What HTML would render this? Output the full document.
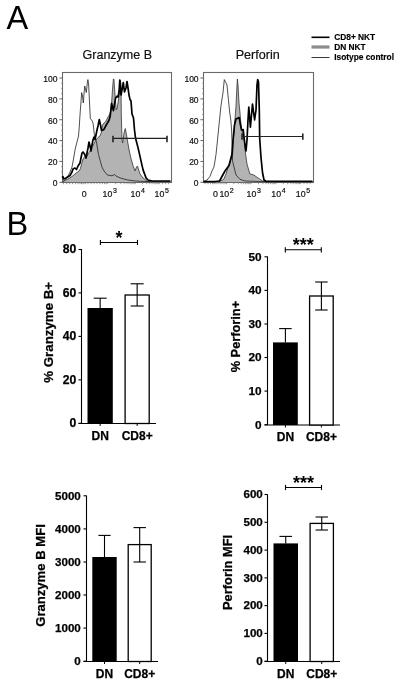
<!DOCTYPE html>
<html><head><meta charset="utf-8"><style>
html,body{margin:0;padding:0;background:#fff;}
svg{display:block;filter:grayscale(1);}
text{font-family:"Liberation Sans", sans-serif;}
</style></head><body>
<svg width="400" height="685" viewBox="0 0 400 685">
<rect x="0" y="0" width="400" height="685" fill="#fff"/>

<text x="6.5" y="29" font-size="32.5" fill="#000">A</text>
<text x="6.5" y="235" font-size="32.5" fill="#000">B</text>
<text x="117.3" y="59.3" font-size="12.5" text-anchor="middle" fill="#111" stroke="#111" stroke-width="0.2">Granzyme B</text>
<text x="257.7" y="59.3" font-size="12.6" text-anchor="middle" fill="#111" stroke="#111" stroke-width="0.2">Perforin</text>
<line x1="311.5" y1="37.3" x2="329.5" y2="37.3" stroke="#000" stroke-width="1.6"/>
<line x1="311.5" y1="47" x2="329.5" y2="47" stroke="#8c8c8c" stroke-width="3.2"/>
<line x1="311.5" y1="57.5" x2="329.5" y2="57.5" stroke="#222" stroke-width="0.9"/>
<text x="334.2" y="39.6" font-size="8.35" font-weight="bold" fill="#000" stroke="#000" stroke-width="0.15">CD8+ NKT</text>
<text x="334.2" y="49.7" font-size="8.35" font-weight="bold" fill="#000" stroke="#000" stroke-width="0.15">DN NKT</text>
<text x="334.2" y="60.1" font-size="8.35" font-weight="bold" fill="#000" stroke="#000" stroke-width="0.15">Isotype control</text>
<rect x="62.5" y="72.5" width="109" height="110" fill="none" stroke="#6a6a6a" stroke-width="1.1"/>
<line x1="59.4" y1="182.30" x2="62.5" y2="182.30" stroke="#555" stroke-width="0.9"/>
<text x="57.4" y="186.10" font-size="8.5" text-anchor="end" fill="#111" stroke="#111" stroke-width="0.2">0</text>
<line x1="61.0" y1="177.09" x2="62.5" y2="177.09" stroke="#888" stroke-width="0.7"/>
<line x1="61.0" y1="171.87" x2="62.5" y2="171.87" stroke="#888" stroke-width="0.7"/>
<line x1="61.0" y1="166.66" x2="62.5" y2="166.66" stroke="#888" stroke-width="0.7"/>
<line x1="59.4" y1="161.44" x2="62.5" y2="161.44" stroke="#555" stroke-width="0.9"/>
<text x="57.4" y="165.24" font-size="8.5" text-anchor="end" fill="#111" stroke="#111" stroke-width="0.2">20</text>
<line x1="61.0" y1="156.22" x2="62.5" y2="156.22" stroke="#888" stroke-width="0.7"/>
<line x1="61.0" y1="151.01" x2="62.5" y2="151.01" stroke="#888" stroke-width="0.7"/>
<line x1="61.0" y1="145.79" x2="62.5" y2="145.79" stroke="#888" stroke-width="0.7"/>
<line x1="59.4" y1="140.58" x2="62.5" y2="140.58" stroke="#555" stroke-width="0.9"/>
<text x="57.4" y="144.38" font-size="8.5" text-anchor="end" fill="#111" stroke="#111" stroke-width="0.2">40</text>
<line x1="61.0" y1="135.37" x2="62.5" y2="135.37" stroke="#888" stroke-width="0.7"/>
<line x1="61.0" y1="130.15" x2="62.5" y2="130.15" stroke="#888" stroke-width="0.7"/>
<line x1="61.0" y1="124.94" x2="62.5" y2="124.94" stroke="#888" stroke-width="0.7"/>
<line x1="59.4" y1="119.72" x2="62.5" y2="119.72" stroke="#555" stroke-width="0.9"/>
<text x="57.4" y="123.52" font-size="8.5" text-anchor="end" fill="#111" stroke="#111" stroke-width="0.2">60</text>
<line x1="61.0" y1="114.51" x2="62.5" y2="114.51" stroke="#888" stroke-width="0.7"/>
<line x1="61.0" y1="109.29" x2="62.5" y2="109.29" stroke="#888" stroke-width="0.7"/>
<line x1="61.0" y1="104.08" x2="62.5" y2="104.08" stroke="#888" stroke-width="0.7"/>
<line x1="59.4" y1="98.86" x2="62.5" y2="98.86" stroke="#555" stroke-width="0.9"/>
<text x="57.4" y="102.66" font-size="8.5" text-anchor="end" fill="#111" stroke="#111" stroke-width="0.2">80</text>
<line x1="61.0" y1="93.65" x2="62.5" y2="93.65" stroke="#888" stroke-width="0.7"/>
<line x1="61.0" y1="88.43" x2="62.5" y2="88.43" stroke="#888" stroke-width="0.7"/>
<line x1="61.0" y1="83.22" x2="62.5" y2="83.22" stroke="#888" stroke-width="0.7"/>
<line x1="59.4" y1="78.00" x2="62.5" y2="78.00" stroke="#555" stroke-width="0.9"/>
<text x="57.4" y="81.80" font-size="8.5" text-anchor="end" fill="#111" stroke="#111" stroke-width="0.2">100</text>
<line x1="107.30" y1="182.5" x2="107.30" y2="184.2" stroke="#777" stroke-width="0.7"/>
<line x1="115.73" y1="182.5" x2="115.73" y2="184.2" stroke="#777" stroke-width="0.7"/>
<line x1="120.66" y1="182.5" x2="120.66" y2="184.2" stroke="#777" stroke-width="0.7"/>
<line x1="124.16" y1="182.5" x2="124.16" y2="184.2" stroke="#777" stroke-width="0.7"/>
<line x1="126.87" y1="182.5" x2="126.87" y2="184.2" stroke="#777" stroke-width="0.7"/>
<line x1="129.09" y1="182.5" x2="129.09" y2="184.2" stroke="#777" stroke-width="0.7"/>
<line x1="130.96" y1="182.5" x2="130.96" y2="184.2" stroke="#777" stroke-width="0.7"/>
<line x1="132.59" y1="182.5" x2="132.59" y2="184.2" stroke="#777" stroke-width="0.7"/>
<line x1="134.02" y1="182.5" x2="134.02" y2="184.2" stroke="#777" stroke-width="0.7"/>
<line x1="135.30" y1="182.5" x2="135.30" y2="184.2" stroke="#777" stroke-width="0.7"/>
<line x1="142.52" y1="182.5" x2="142.52" y2="184.2" stroke="#777" stroke-width="0.7"/>
<line x1="146.75" y1="182.5" x2="146.75" y2="184.2" stroke="#777" stroke-width="0.7"/>
<line x1="149.75" y1="182.5" x2="149.75" y2="184.2" stroke="#777" stroke-width="0.7"/>
<line x1="152.08" y1="182.5" x2="152.08" y2="184.2" stroke="#777" stroke-width="0.7"/>
<line x1="153.98" y1="182.5" x2="153.98" y2="184.2" stroke="#777" stroke-width="0.7"/>
<line x1="155.58" y1="182.5" x2="155.58" y2="184.2" stroke="#777" stroke-width="0.7"/>
<line x1="156.97" y1="182.5" x2="156.97" y2="184.2" stroke="#777" stroke-width="0.7"/>
<line x1="158.20" y1="182.5" x2="158.20" y2="184.2" stroke="#777" stroke-width="0.7"/>
<line x1="63.50" y1="182.5" x2="63.50" y2="184.2" stroke="#777" stroke-width="0.7"/>
<line x1="66.50" y1="182.5" x2="66.50" y2="184.2" stroke="#777" stroke-width="0.7"/>
<line x1="69.50" y1="182.5" x2="69.50" y2="184.2" stroke="#777" stroke-width="0.7"/>
<line x1="72.50" y1="182.5" x2="72.50" y2="184.2" stroke="#777" stroke-width="0.7"/>
<line x1="75.50" y1="182.5" x2="75.50" y2="184.2" stroke="#777" stroke-width="0.7"/>
<line x1="78.00" y1="182.5" x2="78.00" y2="184.2" stroke="#777" stroke-width="0.7"/>
<line x1="80.00" y1="182.5" x2="80.00" y2="184.2" stroke="#777" stroke-width="0.7"/>
<line x1="81.50" y1="182.5" x2="81.50" y2="184.2" stroke="#777" stroke-width="0.7"/>
<line x1="82.80" y1="182.5" x2="82.80" y2="184.2" stroke="#777" stroke-width="0.7"/>
<line x1="84.00" y1="182.5" x2="84.00" y2="184.2" stroke="#777" stroke-width="0.7"/>
<line x1="85.50" y1="182.5" x2="85.50" y2="184.2" stroke="#777" stroke-width="0.7"/>
<line x1="88.00" y1="182.5" x2="88.00" y2="184.2" stroke="#777" stroke-width="0.7"/>
<line x1="91.00" y1="182.5" x2="91.00" y2="184.2" stroke="#777" stroke-width="0.7"/>
<line x1="94.00" y1="182.5" x2="94.00" y2="184.2" stroke="#777" stroke-width="0.7"/>
<line x1="97.00" y1="182.5" x2="97.00" y2="184.2" stroke="#777" stroke-width="0.7"/>
<line x1="100.00" y1="182.5" x2="100.00" y2="184.2" stroke="#777" stroke-width="0.7"/>
<line x1="102.50" y1="182.5" x2="102.50" y2="184.2" stroke="#777" stroke-width="0.7"/>
<line x1="104.50" y1="182.5" x2="104.50" y2="184.2" stroke="#777" stroke-width="0.7"/>
<line x1="106.00" y1="182.5" x2="106.00" y2="184.2" stroke="#777" stroke-width="0.7"/>
<line x1="159.30" y1="182.5" x2="159.30" y2="184.2" stroke="#777" stroke-width="0.7"/>
<line x1="162.30" y1="182.5" x2="162.30" y2="184.2" stroke="#777" stroke-width="0.7"/>
<line x1="165.50" y1="182.5" x2="165.50" y2="184.2" stroke="#777" stroke-width="0.7"/>
<line x1="168.50" y1="182.5" x2="168.50" y2="184.2" stroke="#777" stroke-width="0.7"/>
<text x="81.7" y="196.8" font-size="8.8" fill="#111" stroke="#111" stroke-width="0.2">0</text>
<text x="102.6" y="196.8" font-size="8.8" fill="#111" stroke="#111" stroke-width="0.2">10<tspan font-size="7" dx="0.6" dy="-3.8">3</tspan></text>
<text x="130.6" y="196.8" font-size="8.8" fill="#111" stroke="#111" stroke-width="0.2">10<tspan font-size="7" dx="0.6" dy="-3.8">4</tspan></text>
<text x="154.6" y="196.8" font-size="8.8" fill="#111" stroke="#111" stroke-width="0.2">10<tspan font-size="7" dx="0.6" dy="-3.8">5</tspan></text>
<polygon points="62.5,182.0 64.0,181.0 68.0,179.0 72.0,176.5 75.0,174.0 77.0,172.5 79.0,171.0 80.5,168.5 81.5,164.0 83.0,159.0 84.5,157.0 86.0,158.0 88.0,154.0 90.0,151.0 92.0,147.0 94.0,143.5 96.0,140.0 98.0,137.5 100.0,136.0 101.5,132.0 102.5,125.0 104.0,123.0 105.5,122.0 107.0,119.0 108.0,117.0 109.3,115.0 110.8,111.0 111.6,103.0 112.6,88.0 113.4,79.0 113.9,79.0 114.8,92.0 115.8,105.0 116.3,110.0 117.2,108.0 118.2,102.0 119.5,92.0 120.3,80.0 121.0,84.0 121.3,115.0 122.0,140.0 122.7,143.0 124.0,133.0 125.3,128.5 126.5,135.0 127.5,141.0 129.5,152.0 131.0,158.5 133.0,165.5 135.0,171.0 136.5,167.0 137.5,166.0 139.0,171.0 140.0,174.0 143.0,178.0 147.0,181.0 150.0,182.0 62.5,182" fill="#b3b3b3" stroke="none"/>
<polyline points="62.5,182.0 64.0,181.0 68.0,179.0 72.0,176.5 75.0,174.0 77.0,172.5 79.0,171.0 80.5,168.5 81.5,164.0 83.0,159.0 84.5,157.0 86.0,158.0 88.0,154.0 90.0,151.0 92.0,147.0 94.0,143.5 96.0,140.0 98.0,137.5 100.0,136.0 101.5,132.0 102.5,125.0 104.0,123.0 105.5,122.0 107.0,119.0 108.0,117.0 109.3,115.0 110.8,111.0 111.6,103.0 112.6,88.0 113.4,79.0 113.9,79.0 114.8,92.0 115.8,105.0 116.3,110.0 117.2,108.0 118.2,102.0 119.5,92.0 120.3,80.0 121.0,84.0 121.3,115.0 122.0,140.0 122.7,143.0 124.0,133.0 125.3,128.5 126.5,135.0 127.5,141.0 129.5,152.0 131.0,158.5 133.0,165.5 135.0,171.0 136.5,167.0 137.5,166.0 139.0,171.0 140.0,174.0 143.0,178.0 147.0,181.0 150.0,182.0" fill="none" stroke="#333" stroke-width="0.8"/>
<polyline points="62.5,181.5 65.0,180.0 68.0,176.0 70.0,172.0 72.0,167.0 73.5,159.0 75.2,149.0 77.0,142.0 78.5,136.0 79.2,128.0 79.8,118.0 80.5,108.0 81.7,92.6 82.5,96.0 83.3,103.0 84.0,94.0 84.7,86.0 85.5,89.0 86.3,92.6 87.2,84.0 87.9,79.6 88.6,84.0 89.3,98.0 90.0,112.0 90.3,118.8 92.0,120.3 93.1,123.3 93.9,130.8 94.6,136.8 96.4,141.5 98.5,154.5 100.0,160.0 101.9,166.9 104.0,171.0 107.4,175.0 110.0,175.5 112.0,175.8 114.5,174.5 116.0,176.0 120.0,177.9 124.0,179.0 128.0,180.0 135.0,181.0 145.0,181.5 170.5,181.5" fill="none" stroke="#222" stroke-width="0.8"/>
<polyline points="62.8,176.0 63.5,179.0 66.0,178.0 70.0,175.5 72.0,172.0 73.0,169.0 75.0,168.0 76.5,169.5 78.0,166.0 80.0,163.0 81.0,158.0 82.0,153.0 83.0,152.0 84.5,154.0 86.0,158.0 87.0,153.0 88.0,148.0 89.0,142.0 90.0,146.0 91.0,151.0 92.0,145.0 93.0,140.0 94.0,137.0 95.0,139.5 96.0,135.0 97.0,130.0 98.0,126.0 99.3,119.5 100.5,125.0 101.5,130.5 103.0,130.0 104.0,129.3 105.5,126.3 107.8,122.5 109.3,119.5 110.2,116.0 111.6,103.4 113.4,110.6 115.6,98.0 117.0,96.2 118.1,97.0 119.1,91.0 119.8,80.0 121.0,95.0 122.0,90.0 123.3,82.5 124.5,92.0 126.0,88.0 127.0,81.5 128.0,88.0 129.0,95.0 130.0,99.5 131.0,101.0 132.0,114.0 133.5,118.0 134.5,130.0 135.5,138.0 138.0,147.6 140.5,158.6 143.0,169.6 146.0,177.9 148.0,180.0 152.0,181.0 158.0,181.0 170.5,181.0" fill="none" stroke="#000" stroke-width="1.7" stroke-linejoin="round"/>
<line x1="113" y1="138.4" x2="167" y2="138.4" stroke="#222" stroke-width="1.1"/>
<line x1="113" y1="135.8" x2="113" y2="142.3" stroke="#222" stroke-width="1.6"/>
<line x1="167" y1="135.8" x2="167" y2="142.3" stroke="#222" stroke-width="1.6"/>
<rect x="203.5" y="72.5" width="110" height="110" fill="none" stroke="#6a6a6a" stroke-width="1.1"/>
<line x1="200.4" y1="182.30" x2="203.5" y2="182.30" stroke="#555" stroke-width="0.9"/>
<text x="198.6" y="186.10" font-size="8.5" text-anchor="end" fill="#111" stroke="#111" stroke-width="0.2">0</text>
<line x1="202.0" y1="177.09" x2="203.5" y2="177.09" stroke="#888" stroke-width="0.7"/>
<line x1="202.0" y1="171.87" x2="203.5" y2="171.87" stroke="#888" stroke-width="0.7"/>
<line x1="202.0" y1="166.66" x2="203.5" y2="166.66" stroke="#888" stroke-width="0.7"/>
<line x1="200.4" y1="161.44" x2="203.5" y2="161.44" stroke="#555" stroke-width="0.9"/>
<text x="198.6" y="165.24" font-size="8.5" text-anchor="end" fill="#111" stroke="#111" stroke-width="0.2">20</text>
<line x1="202.0" y1="156.22" x2="203.5" y2="156.22" stroke="#888" stroke-width="0.7"/>
<line x1="202.0" y1="151.01" x2="203.5" y2="151.01" stroke="#888" stroke-width="0.7"/>
<line x1="202.0" y1="145.79" x2="203.5" y2="145.79" stroke="#888" stroke-width="0.7"/>
<line x1="200.4" y1="140.58" x2="203.5" y2="140.58" stroke="#555" stroke-width="0.9"/>
<text x="198.6" y="144.38" font-size="8.5" text-anchor="end" fill="#111" stroke="#111" stroke-width="0.2">40</text>
<line x1="202.0" y1="135.37" x2="203.5" y2="135.37" stroke="#888" stroke-width="0.7"/>
<line x1="202.0" y1="130.15" x2="203.5" y2="130.15" stroke="#888" stroke-width="0.7"/>
<line x1="202.0" y1="124.94" x2="203.5" y2="124.94" stroke="#888" stroke-width="0.7"/>
<line x1="200.4" y1="119.72" x2="203.5" y2="119.72" stroke="#555" stroke-width="0.9"/>
<text x="198.6" y="123.52" font-size="8.5" text-anchor="end" fill="#111" stroke="#111" stroke-width="0.2">60</text>
<line x1="202.0" y1="114.51" x2="203.5" y2="114.51" stroke="#888" stroke-width="0.7"/>
<line x1="202.0" y1="109.29" x2="203.5" y2="109.29" stroke="#888" stroke-width="0.7"/>
<line x1="202.0" y1="104.08" x2="203.5" y2="104.08" stroke="#888" stroke-width="0.7"/>
<line x1="200.4" y1="98.86" x2="203.5" y2="98.86" stroke="#555" stroke-width="0.9"/>
<text x="198.6" y="102.66" font-size="8.5" text-anchor="end" fill="#111" stroke="#111" stroke-width="0.2">80</text>
<line x1="202.0" y1="93.65" x2="203.5" y2="93.65" stroke="#888" stroke-width="0.7"/>
<line x1="202.0" y1="88.43" x2="203.5" y2="88.43" stroke="#888" stroke-width="0.7"/>
<line x1="202.0" y1="83.22" x2="203.5" y2="83.22" stroke="#888" stroke-width="0.7"/>
<line x1="200.4" y1="78.00" x2="203.5" y2="78.00" stroke="#555" stroke-width="0.9"/>
<text x="198.6" y="81.80" font-size="8.5" text-anchor="end" fill="#111" stroke="#111" stroke-width="0.2">100</text>
<line x1="226.50" y1="182.5" x2="226.50" y2="184.2" stroke="#777" stroke-width="0.7"/>
<line x1="233.88" y1="182.5" x2="233.88" y2="184.2" stroke="#777" stroke-width="0.7"/>
<line x1="238.19" y1="182.5" x2="238.19" y2="184.2" stroke="#777" stroke-width="0.7"/>
<line x1="241.25" y1="182.5" x2="241.25" y2="184.2" stroke="#777" stroke-width="0.7"/>
<line x1="243.62" y1="182.5" x2="243.62" y2="184.2" stroke="#777" stroke-width="0.7"/>
<line x1="245.56" y1="182.5" x2="245.56" y2="184.2" stroke="#777" stroke-width="0.7"/>
<line x1="247.20" y1="182.5" x2="247.20" y2="184.2" stroke="#777" stroke-width="0.7"/>
<line x1="248.63" y1="182.5" x2="248.63" y2="184.2" stroke="#777" stroke-width="0.7"/>
<line x1="249.88" y1="182.5" x2="249.88" y2="184.2" stroke="#777" stroke-width="0.7"/>
<line x1="251.00" y1="182.5" x2="251.00" y2="184.2" stroke="#777" stroke-width="0.7"/>
<line x1="258.53" y1="182.5" x2="258.53" y2="184.2" stroke="#777" stroke-width="0.7"/>
<line x1="262.93" y1="182.5" x2="262.93" y2="184.2" stroke="#777" stroke-width="0.7"/>
<line x1="266.05" y1="182.5" x2="266.05" y2="184.2" stroke="#777" stroke-width="0.7"/>
<line x1="268.47" y1="182.5" x2="268.47" y2="184.2" stroke="#777" stroke-width="0.7"/>
<line x1="270.45" y1="182.5" x2="270.45" y2="184.2" stroke="#777" stroke-width="0.7"/>
<line x1="272.13" y1="182.5" x2="272.13" y2="184.2" stroke="#777" stroke-width="0.7"/>
<line x1="273.58" y1="182.5" x2="273.58" y2="184.2" stroke="#777" stroke-width="0.7"/>
<line x1="274.86" y1="182.5" x2="274.86" y2="184.2" stroke="#777" stroke-width="0.7"/>
<line x1="276.00" y1="182.5" x2="276.00" y2="184.2" stroke="#777" stroke-width="0.7"/>
<line x1="283.38" y1="182.5" x2="283.38" y2="184.2" stroke="#777" stroke-width="0.7"/>
<line x1="287.69" y1="182.5" x2="287.69" y2="184.2" stroke="#777" stroke-width="0.7"/>
<line x1="290.75" y1="182.5" x2="290.75" y2="184.2" stroke="#777" stroke-width="0.7"/>
<line x1="293.12" y1="182.5" x2="293.12" y2="184.2" stroke="#777" stroke-width="0.7"/>
<line x1="295.06" y1="182.5" x2="295.06" y2="184.2" stroke="#777" stroke-width="0.7"/>
<line x1="296.70" y1="182.5" x2="296.70" y2="184.2" stroke="#777" stroke-width="0.7"/>
<line x1="298.13" y1="182.5" x2="298.13" y2="184.2" stroke="#777" stroke-width="0.7"/>
<line x1="299.38" y1="182.5" x2="299.38" y2="184.2" stroke="#777" stroke-width="0.7"/>
<line x1="205.00" y1="182.5" x2="205.00" y2="184.2" stroke="#777" stroke-width="0.7"/>
<line x1="208.00" y1="182.5" x2="208.00" y2="184.2" stroke="#777" stroke-width="0.7"/>
<line x1="210.50" y1="182.5" x2="210.50" y2="184.2" stroke="#777" stroke-width="0.7"/>
<line x1="212.50" y1="182.5" x2="212.50" y2="184.2" stroke="#777" stroke-width="0.7"/>
<line x1="214.00" y1="182.5" x2="214.00" y2="184.2" stroke="#777" stroke-width="0.7"/>
<line x1="215.00" y1="182.5" x2="215.00" y2="184.2" stroke="#777" stroke-width="0.7"/>
<line x1="217.00" y1="182.5" x2="217.00" y2="184.2" stroke="#777" stroke-width="0.7"/>
<line x1="219.00" y1="182.5" x2="219.00" y2="184.2" stroke="#777" stroke-width="0.7"/>
<line x1="221.00" y1="182.5" x2="221.00" y2="184.2" stroke="#777" stroke-width="0.7"/>
<line x1="223.00" y1="182.5" x2="223.00" y2="184.2" stroke="#777" stroke-width="0.7"/>
<line x1="225.00" y1="182.5" x2="225.00" y2="184.2" stroke="#777" stroke-width="0.7"/>
<line x1="300.50" y1="182.5" x2="300.50" y2="184.2" stroke="#777" stroke-width="0.7"/>
<line x1="304.00" y1="182.5" x2="304.00" y2="184.2" stroke="#777" stroke-width="0.7"/>
<line x1="307.00" y1="182.5" x2="307.00" y2="184.2" stroke="#777" stroke-width="0.7"/>
<line x1="310.00" y1="182.5" x2="310.00" y2="184.2" stroke="#777" stroke-width="0.7"/>
<text x="212.9" y="196.8" font-size="8.8" fill="#111" stroke="#111" stroke-width="0.2">0</text>
<text x="219.4" y="196.8" font-size="8.8" fill="#111" stroke="#111" stroke-width="0.2">10<tspan font-size="7" dx="0.6" dy="-3.8">2</tspan></text>
<text x="246.5" y="196.8" font-size="8.8" fill="#111" stroke="#111" stroke-width="0.2">10<tspan font-size="7" dx="0.6" dy="-3.8">3</tspan></text>
<text x="271.3" y="196.8" font-size="8.8" fill="#111" stroke="#111" stroke-width="0.2">10<tspan font-size="7" dx="0.6" dy="-3.8">4</tspan></text>
<text x="295.8" y="196.8" font-size="8.8" fill="#111" stroke="#111" stroke-width="0.2">10<tspan font-size="7" dx="0.6" dy="-3.8">5</tspan></text>
<polygon points="203.5,182.0 215.0,181.8 220.0,181.0 223.6,179.5 226.0,174.0 227.8,168.0 230.0,162.0 232.6,154.5 233.5,140.0 234.5,125.0 236.0,106.0 237.0,85.0 237.4,79.0 238.0,85.0 239.0,103.0 240.0,113.0 241.0,125.0 242.0,131.0 243.0,135.0 244.3,141.0 245.6,154.5 247.0,164.0 249.8,173.8 253.9,175.1 258.0,177.9 262.5,181.0 268.0,182.0 203.5,182" fill="#b3b3b3" stroke="none"/>
<polyline points="203.5,182.0 215.0,181.8 220.0,181.0 223.6,179.5 226.0,174.0 227.8,168.0 230.0,162.0 232.6,154.5 233.5,140.0 234.5,125.0 236.0,106.0 237.0,85.0 237.4,79.0 238.0,85.0 239.0,103.0 240.0,113.0 241.0,125.0 242.0,131.0 243.0,135.0 244.3,141.0 245.6,154.5 247.0,164.0 249.8,173.8 253.9,175.1 258.0,177.9 262.5,181.0 268.0,182.0" fill="none" stroke="#333" stroke-width="0.8"/>
<polyline points="203.5,181.5 207.1,180.0 209.9,176.5 212.0,171.0 214.0,166.9 216.0,154.5 217.5,140.0 218.8,127.0 220.9,106.4 223.0,92.6 224.3,79.6 225.7,82.3 227.0,85.0 228.4,99.5 229.8,113.3 230.8,120.0 231.6,130.0 232.6,161.4 236.0,175.0 240.0,179.3 245.0,181.0 260.0,181.5 312.5,181.5" fill="none" stroke="#222" stroke-width="0.8"/>
<polyline points="203.5,181.5 215.0,181.5 219.5,181.0 225.0,171.0 229.0,165.5 231.9,154.5 233.0,140.0 234.5,125.0 236.0,119.0 239.2,117.6 240.5,125.0 241.5,130.0 243.2,129.6 244.0,137.0 245.0,145.0 246.0,151.0 247.0,140.0 248.0,120.0 248.8,107.0 250.4,127.2 252.5,104.0 254.6,120.0 256.0,110.0 257.0,85.0 257.7,79.5 258.5,82.0 259.3,110.0 259.7,138.8 261.0,157.5 262.5,172.5 264.0,180.0 266.0,181.3 312.5,181.3" fill="none" stroke="#000" stroke-width="1.7" stroke-linejoin="round"/>
<line x1="242" y1="136.5" x2="302.8" y2="136.5" stroke="#222" stroke-width="1.1"/>
<line x1="242" y1="133.6" x2="242" y2="139.8" stroke="#222" stroke-width="1.6"/>
<line x1="302.8" y1="133.6" x2="302.8" y2="139.8" stroke="#222" stroke-width="1.6"/>
<line x1="81.5" y1="249" x2="81.5" y2="423.5" stroke="#000" stroke-width="1.1"/>
<line x1="78.5" y1="423.5" x2="156" y2="423.5" stroke="#000" stroke-width="1.1"/>
<line x1="78.5" y1="423.3" x2="81.5" y2="423.3" stroke="#000" stroke-width="1.1"/>
<text x="76.3" y="427.10" font-size="12.2" font-weight="bold" text-anchor="end" fill="#000" stroke="#000" stroke-width="0.25">0</text>
<line x1="78.5" y1="379.9" x2="81.5" y2="379.9" stroke="#000" stroke-width="1.1"/>
<text x="76.3" y="383.70" font-size="12.2" font-weight="bold" text-anchor="end" fill="#000" stroke="#000" stroke-width="0.25">20</text>
<line x1="78.5" y1="336.4" x2="81.5" y2="336.4" stroke="#000" stroke-width="1.1"/>
<text x="76.3" y="340.20" font-size="12.2" font-weight="bold" text-anchor="end" fill="#000" stroke="#000" stroke-width="0.25">40</text>
<line x1="78.5" y1="292.9" x2="81.5" y2="292.9" stroke="#000" stroke-width="1.1"/>
<text x="76.3" y="296.70" font-size="12.2" font-weight="bold" text-anchor="end" fill="#000" stroke="#000" stroke-width="0.25">60</text>
<line x1="78.5" y1="249.5" x2="81.5" y2="249.5" stroke="#000" stroke-width="1.1"/>
<text x="76.3" y="253.30" font-size="12.2" font-weight="bold" text-anchor="end" fill="#000" stroke="#000" stroke-width="0.25">80</text>
<text transform="translate(52.6,332.3) rotate(-90)" x="0" y="0" font-size="13.3" font-weight="bold" text-anchor="middle" fill="#000" stroke="#000" stroke-width="0.25">% Granzyme B+</text>
<rect x="87.5" y="308" width="25.299999999999997" height="115.5" fill="#000"/>
<line x1="100.15" y1="298.2" x2="100.15" y2="308" stroke="#000" stroke-width="1.1"/>
<line x1="93.65" y1="298.2" x2="106.65" y2="298.2" stroke="#000" stroke-width="1.1"/>
<line x1="100.15" y1="423.5" x2="100.15" y2="426" stroke="#000" stroke-width="1"/>
<text x="100.15" y="440" font-size="12" font-weight="bold" text-anchor="middle" fill="#000" stroke="#000" stroke-width="0.25">DN</text>
<rect x="125.1" y="295" width="24.100000000000012" height="128.5" fill="#fff" stroke="#000" stroke-width="1.3"/>
<line x1="137.15" y1="283.8" x2="137.15" y2="306" stroke="#000" stroke-width="1.1"/>
<line x1="130.65" y1="283.8" x2="143.65" y2="283.8" stroke="#000" stroke-width="1.1"/>
<line x1="130.65" y1="306" x2="143.65" y2="306" stroke="#000" stroke-width="1.1"/>
<line x1="137.15" y1="423.5" x2="137.15" y2="426" stroke="#000" stroke-width="1"/>
<text x="137.15" y="440" font-size="12" font-weight="bold" text-anchor="middle" fill="#000" stroke="#000" stroke-width="0.25">CD8+</text>
<line x1="100.4" y1="242.5" x2="137.5" y2="242.5" stroke="#000" stroke-width="1.1"/>
<line x1="100.4" y1="239.9" x2="100.4" y2="245.1" stroke="#000" stroke-width="1.1"/>
<line x1="137.5" y1="239.9" x2="137.5" y2="245.1" stroke="#000" stroke-width="1.1"/>
<text x="118.95" y="244.1" font-size="18" font-weight="bold" text-anchor="middle" fill="#000">*</text>
<line x1="267.5" y1="256.5" x2="267.5" y2="425.0" stroke="#000" stroke-width="1.1"/>
<line x1="264.5" y1="425.0" x2="340" y2="425.0" stroke="#000" stroke-width="1.1"/>
<line x1="264.5" y1="424.7" x2="267.5" y2="424.7" stroke="#000" stroke-width="1.1"/>
<text x="261.6" y="428.50" font-size="11.8" font-weight="bold" text-anchor="end" fill="#000" stroke="#000" stroke-width="0.25">0</text>
<line x1="264.5" y1="391.1" x2="267.5" y2="391.1" stroke="#000" stroke-width="1.1"/>
<text x="261.6" y="394.90" font-size="11.8" font-weight="bold" text-anchor="end" fill="#000" stroke="#000" stroke-width="0.25">10</text>
<line x1="264.5" y1="357.5" x2="267.5" y2="357.5" stroke="#000" stroke-width="1.1"/>
<text x="261.6" y="361.30" font-size="11.8" font-weight="bold" text-anchor="end" fill="#000" stroke="#000" stroke-width="0.25">20</text>
<line x1="264.5" y1="324.0" x2="267.5" y2="324.0" stroke="#000" stroke-width="1.1"/>
<text x="261.6" y="327.80" font-size="11.8" font-weight="bold" text-anchor="end" fill="#000" stroke="#000" stroke-width="0.25">30</text>
<line x1="264.5" y1="290.4" x2="267.5" y2="290.4" stroke="#000" stroke-width="1.1"/>
<text x="261.6" y="294.20" font-size="11.8" font-weight="bold" text-anchor="end" fill="#000" stroke="#000" stroke-width="0.25">40</text>
<line x1="264.5" y1="256.8" x2="267.5" y2="256.8" stroke="#000" stroke-width="1.1"/>
<text x="261.6" y="260.60" font-size="11.8" font-weight="bold" text-anchor="end" fill="#000" stroke="#000" stroke-width="0.25">50</text>
<text transform="translate(240,336.6) rotate(-90)" x="0" y="0" font-size="12.8" font-weight="bold" text-anchor="middle" fill="#000" stroke="#000" stroke-width="0.25">% Perforin+</text>
<rect x="273" y="342.4" width="24.80000000000001" height="82.60000000000002" fill="#000"/>
<line x1="285.4" y1="328.6" x2="285.4" y2="342.4" stroke="#000" stroke-width="1.1"/>
<line x1="279.15" y1="328.6" x2="291.65" y2="328.6" stroke="#000" stroke-width="1.1"/>
<line x1="285.4" y1="425.0" x2="285.4" y2="427.5" stroke="#000" stroke-width="1"/>
<text x="285.4" y="441" font-size="12" font-weight="bold" text-anchor="middle" fill="#000" stroke="#000" stroke-width="0.25">DN</text>
<rect x="309.6" y="296" width="23.600000000000012" height="129.0" fill="#fff" stroke="#000" stroke-width="1.3"/>
<line x1="321.4" y1="282" x2="321.4" y2="310" stroke="#000" stroke-width="1.1"/>
<line x1="315.15" y1="282" x2="327.65" y2="282" stroke="#000" stroke-width="1.1"/>
<line x1="315.15" y1="310" x2="327.65" y2="310" stroke="#000" stroke-width="1.1"/>
<line x1="321.4" y1="425.0" x2="321.4" y2="427.5" stroke="#000" stroke-width="1"/>
<text x="321.4" y="441" font-size="12" font-weight="bold" text-anchor="middle" fill="#000" stroke="#000" stroke-width="0.25">CD8+</text>
<line x1="285.3" y1="249.8" x2="321.3" y2="249.8" stroke="#000" stroke-width="1.1"/>
<line x1="285.3" y1="247.20000000000002" x2="285.3" y2="252.4" stroke="#000" stroke-width="1.1"/>
<line x1="321.3" y1="247.20000000000002" x2="321.3" y2="252.4" stroke="#000" stroke-width="1.1"/>
<text x="303.3" y="250.5" font-size="18" font-weight="bold" text-anchor="middle" fill="#000">***</text>
<line x1="86.5" y1="495.5" x2="86.5" y2="661.5" stroke="#000" stroke-width="1.1"/>
<line x1="83.5" y1="661.5" x2="158" y2="661.5" stroke="#000" stroke-width="1.1"/>
<line x1="83.5" y1="661.2" x2="86.5" y2="661.2" stroke="#000" stroke-width="1.1"/>
<text x="80.8" y="665.00" font-size="11.6" font-weight="bold" text-anchor="end" fill="#000" stroke="#000" stroke-width="0.25">0</text>
<line x1="83.5" y1="628.1" x2="86.5" y2="628.1" stroke="#000" stroke-width="1.1"/>
<text x="80.8" y="631.90" font-size="11.6" font-weight="bold" text-anchor="end" fill="#000" stroke="#000" stroke-width="0.25">1000</text>
<line x1="83.5" y1="595.0" x2="86.5" y2="595.0" stroke="#000" stroke-width="1.1"/>
<text x="80.8" y="598.80" font-size="11.6" font-weight="bold" text-anchor="end" fill="#000" stroke="#000" stroke-width="0.25">2000</text>
<line x1="83.5" y1="562.0" x2="86.5" y2="562.0" stroke="#000" stroke-width="1.1"/>
<text x="80.8" y="565.80" font-size="11.6" font-weight="bold" text-anchor="end" fill="#000" stroke="#000" stroke-width="0.25">3000</text>
<line x1="83.5" y1="528.9" x2="86.5" y2="528.9" stroke="#000" stroke-width="1.1"/>
<text x="80.8" y="532.70" font-size="11.6" font-weight="bold" text-anchor="end" fill="#000" stroke="#000" stroke-width="0.25">4000</text>
<line x1="83.5" y1="495.8" x2="86.5" y2="495.8" stroke="#000" stroke-width="1.1"/>
<text x="80.8" y="499.60" font-size="11.6" font-weight="bold" text-anchor="end" fill="#000" stroke="#000" stroke-width="0.25">5000</text>
<text transform="translate(45.3,575.5) rotate(-90)" x="0" y="0" font-size="13.1" font-weight="bold" text-anchor="middle" fill="#000" stroke="#000" stroke-width="0.25">Granzyme B MFI</text>
<rect x="92.3" y="557" width="24.400000000000006" height="104.5" fill="#000"/>
<line x1="104.5" y1="535.4" x2="104.5" y2="557" stroke="#000" stroke-width="1.1"/>
<line x1="98.4" y1="535.4" x2="110.6" y2="535.4" stroke="#000" stroke-width="1.1"/>
<line x1="104.5" y1="661.5" x2="104.5" y2="664" stroke="#000" stroke-width="1"/>
<text x="104.5" y="678" font-size="12" font-weight="bold" text-anchor="middle" fill="#000" stroke="#000" stroke-width="0.25">DN</text>
<rect x="128.2" y="544.6" width="23.000000000000018" height="116.89999999999998" fill="#fff" stroke="#000" stroke-width="1.3"/>
<line x1="139.7" y1="527.6" x2="139.7" y2="562" stroke="#000" stroke-width="1.1"/>
<line x1="133.5" y1="527.6" x2="145.89999999999998" y2="527.6" stroke="#000" stroke-width="1.1"/>
<line x1="133.5" y1="562" x2="145.89999999999998" y2="562" stroke="#000" stroke-width="1.1"/>
<line x1="139.7" y1="661.5" x2="139.7" y2="664" stroke="#000" stroke-width="1"/>
<text x="139.7" y="678" font-size="12" font-weight="bold" text-anchor="middle" fill="#000" stroke="#000" stroke-width="0.25">CD8+</text>
<line x1="267.5" y1="494.3" x2="267.5" y2="661.5" stroke="#000" stroke-width="1.1"/>
<line x1="264.5" y1="661.5" x2="340" y2="661.5" stroke="#000" stroke-width="1.1"/>
<line x1="264.5" y1="661.2" x2="267.5" y2="661.2" stroke="#000" stroke-width="1.1"/>
<text x="262.8" y="665.00" font-size="11.6" font-weight="bold" text-anchor="end" fill="#000" stroke="#000" stroke-width="0.25">0</text>
<line x1="264.5" y1="633.4" x2="267.5" y2="633.4" stroke="#000" stroke-width="1.1"/>
<text x="262.8" y="637.20" font-size="11.6" font-weight="bold" text-anchor="end" fill="#000" stroke="#000" stroke-width="0.25">100</text>
<line x1="264.5" y1="605.6" x2="267.5" y2="605.6" stroke="#000" stroke-width="1.1"/>
<text x="262.8" y="609.40" font-size="11.6" font-weight="bold" text-anchor="end" fill="#000" stroke="#000" stroke-width="0.25">200</text>
<line x1="264.5" y1="577.9" x2="267.5" y2="577.9" stroke="#000" stroke-width="1.1"/>
<text x="262.8" y="581.70" font-size="11.6" font-weight="bold" text-anchor="end" fill="#000" stroke="#000" stroke-width="0.25">300</text>
<line x1="264.5" y1="550.1" x2="267.5" y2="550.1" stroke="#000" stroke-width="1.1"/>
<text x="262.8" y="553.90" font-size="11.6" font-weight="bold" text-anchor="end" fill="#000" stroke="#000" stroke-width="0.25">400</text>
<line x1="264.5" y1="522.3" x2="267.5" y2="522.3" stroke="#000" stroke-width="1.1"/>
<text x="262.8" y="526.10" font-size="11.6" font-weight="bold" text-anchor="end" fill="#000" stroke="#000" stroke-width="0.25">500</text>
<line x1="264.5" y1="494.5" x2="267.5" y2="494.5" stroke="#000" stroke-width="1.1"/>
<text x="262.8" y="498.30" font-size="11.6" font-weight="bold" text-anchor="end" fill="#000" stroke="#000" stroke-width="0.25">600</text>
<text transform="translate(231.6,572.4) rotate(-90)" x="0" y="0" font-size="12.9" font-weight="bold" text-anchor="middle" fill="#000" stroke="#000" stroke-width="0.25">Perforin MFI</text>
<rect x="273.5" y="543.4" width="24.5" height="118.10000000000002" fill="#000"/>
<line x1="285.75" y1="536.4" x2="285.75" y2="543.4" stroke="#000" stroke-width="1.1"/>
<line x1="279.45" y1="536.4" x2="292.05" y2="536.4" stroke="#000" stroke-width="1.1"/>
<line x1="285.75" y1="661.5" x2="285.75" y2="664" stroke="#000" stroke-width="1"/>
<text x="285.75" y="678" font-size="12" font-weight="bold" text-anchor="middle" fill="#000" stroke="#000" stroke-width="0.25">DN</text>
<rect x="310.1" y="523.4" width="23.3" height="138.10000000000002" fill="#fff" stroke="#000" stroke-width="1.3"/>
<line x1="321.75" y1="517" x2="321.75" y2="530" stroke="#000" stroke-width="1.1"/>
<line x1="315.55" y1="517" x2="327.95" y2="517" stroke="#000" stroke-width="1.1"/>
<line x1="315.55" y1="530" x2="327.95" y2="530" stroke="#000" stroke-width="1.1"/>
<line x1="321.75" y1="661.5" x2="321.75" y2="664" stroke="#000" stroke-width="1"/>
<text x="321.75" y="678" font-size="12" font-weight="bold" text-anchor="middle" fill="#000" stroke="#000" stroke-width="0.25">CD8+</text>
<line x1="285.5" y1="487.5" x2="321.5" y2="487.5" stroke="#000" stroke-width="1.1"/>
<line x1="285.5" y1="484.9" x2="285.5" y2="490.1" stroke="#000" stroke-width="1.1"/>
<line x1="321.5" y1="484.9" x2="321.5" y2="490.1" stroke="#000" stroke-width="1.1"/>
<text x="303.5" y="489.1" font-size="18" font-weight="bold" text-anchor="middle" fill="#000">***</text>
</svg></body></html>
